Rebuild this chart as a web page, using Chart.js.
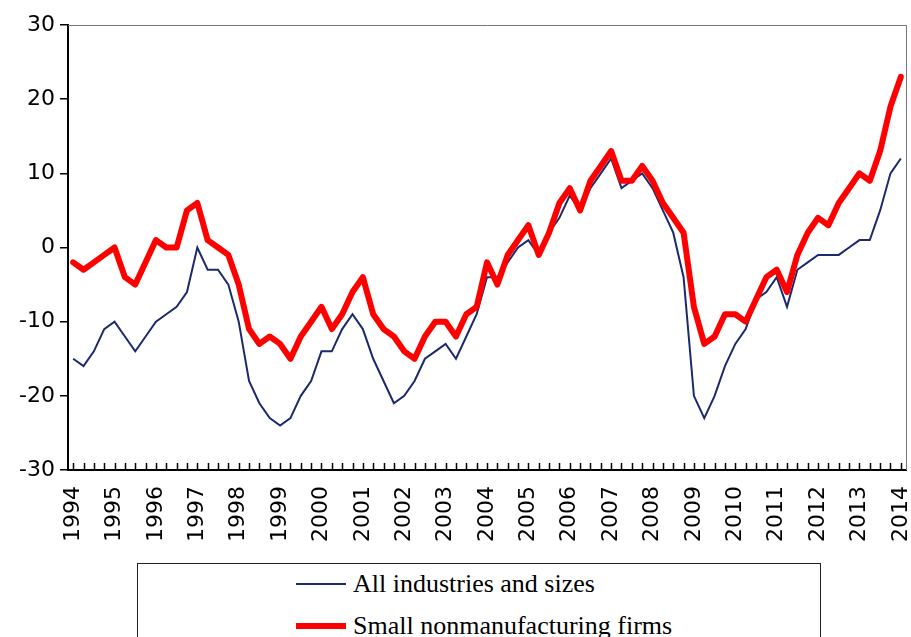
<!DOCTYPE html>
<html>
<head>
<meta charset="utf-8">
<script src="https://cdn.jsdelivr.net/npm/chart.js@4/dist/chart.umd.min.js"></script>
<style>
  html,body{margin:0;padding:0;background:#fff;overflow:hidden;}
  #wrap{position:relative;width:911px;height:637px;}
  #c{position:absolute;left:0;top:0;}
  #legend{position:absolute;left:137px;top:563px;width:684px;height:100px;
          border:1.5px solid #222;box-sizing:border-box;}
  .item{position:absolute;left:0;height:0;}
  .item .sw{position:absolute;left:158px;width:50px;}
  .item .tx{position:absolute;left:215px;white-space:nowrap;
            font-family:"Liberation Serif","Times New Roman",serif;font-size:26px;color:#000;
            transform:translateY(-50%);line-height:1;}
</style>
</head>
<body>
<div id="wrap">
  <canvas id="c" width="911" height="560"></canvas>
  <div id="legend"></div>
</div>
<script>
/* Business conditions DI: all industries vs small nonmanufacturing (quarterly) */

const YEARS = [1994,1995,1996,1997,1998,1999,2000,2001,2002,2003,2004,
               2005,2006,2007,2008,2009,2010,2011,2012,2013,2014];

// quarterly points 1994 Q1 .. 2014 Q1
const ALL_IND = [
  -15,-16,-14,-11,-10,-12,-14,-12,-10,-9,-8,-6,0,-3,-3,-5,-10,-18,-21,-23,-24,
  -23,-20,-18,-14,-14,-11,-9,-11,-15,-18,-21,-20,-18,-15,-14,-13,
  -15,-12,-9,-4,-4,-2,0,1,-1,2,4,7,
  5,8,10,12,8,9,10,8,5,2,-4,-20,
  -23,-20,-16,-13,-11,-7,-6,-4,-8,-3,-2,-1,
  -1,-1,0,1,1,5,10,12
];
const SMALL_NONMFG = [
  -2,-3,-2,-1,0,-4,-5,-2,1,0,0,5,6,1,0,-1,-5,-11,-13,-12,-13,
  -15,-12,-10,-8,-11,-9,-6,-4,-9,-11,-12,-14,-15,-12,-10,-10,
  -12,-9,-8,-2,-5,-1,1,3,-1,2,6,8,
  5,9,11,13,9,9,11,9,6,4,2,-8,
  -13,-12,-9,-9,-10,-7,-4,-3,-6,-1,2,4,
  3,6,8,10,9,13,19,23
];

const labels = [];
YEARS.forEach((y,i)=>{
  for(let q=1;q<=4;q++){
    if(i===YEARS.length-1 && q>1) break;
    labels.push(y+"Q"+q);
  }
});

// ── frame + inward quarter ticks ────────────────────────────────────────────
const framePlugin = {
  id:"frame",
  afterDraw(chart){
    const {ctx, chartArea:a, scales:{x}} = chart;
    ctx.save();
    ctx.strokeStyle="#777"; ctx.lineWidth=1;
    ctx.beginPath();
    ctx.moveTo(a.left, a.top+0.5); ctx.lineTo(a.right+0.5, a.top+0.5);
    ctx.lineTo(a.right+0.5, a.bottom);
    ctx.stroke();
    ctx.strokeStyle="#000"; ctx.lineWidth=1.5;
    ctx.beginPath();
    x.ticks.forEach((t,i)=>{
      const px = Math.round(x.getPixelForTick(i))+0.5;
      ctx.moveTo(px, a.bottom); ctx.lineTo(px, a.bottom-7);
    });
    ctx.stroke();
    ctx.restore();
  }
};

Chart.defaults.font.family = "'DejaVu Sans', sans-serif";
Chart.defaults.color = "#000";

const chart = new Chart(document.getElementById("c"),{
  type:"line",
  data:{labels, datasets:[
    {label:"All industries and sizes", data:ALL_IND, borderColor:"#1b2a6e",
     borderWidth:2, pointRadius:0, tension:0, order:2},
    {label:"Small nonmanufacturing firms", data:SMALL_NONMFG, borderColor:"#ff0000",
     borderWidth:6, pointRadius:0, tension:0, borderJoinStyle:"round", borderCapStyle:"round", order:1}
  ]},
  options:{
    responsive:false, animation:false, devicePixelRatio:1,
    layout:{padding:{top:25,right:5,left:0,bottom:0}},
    plugins:{legend:{display:false}, tooltip:{enabled:false}},
    scales:{
      x:{
        offset:true,
        grid:{display:true, drawOnChartArea:false, drawTicks:false},
        border:{display:true, color:"#000", width:2},
        ticks:{autoSkip:false, minRotation:90, maxRotation:90, padding:16,
               font:{size:22}, color:"#000",
               callback:(v,i)=> i%4===0 ? YEARS[i/4] : ""},
        afterFit:s=>{ s.height = 90; s.paddingLeft = 0; s.paddingRight = 0; }
      },
      y:{
        min:-30, max:30,
        grid:{drawOnChartArea:false, drawTicks:true, tickLength:8, color:"#000", lineWidth:1.5},
        border:{display:true, color:"#000", width:2},
        ticks:{stepSize:10, padding:5, font:{size:22}, color:"#000"},
        afterFit:s=>{ s.width = 68; s.paddingTop = 0; s.paddingBottom = 0; }
      }
    }
  },
  plugins:[framePlugin]
});

// ── html legend (stacked, like the source) ─────────────────────────────────
const leg = document.getElementById("legend");
chart.data.datasets.forEach((d,i)=>{
  const it = document.createElement("div");
  it.className="item";
  it.style.top = (20 + i*42)+"px";
  const sw = document.createElement("div");
  sw.className="sw";
  sw.style.height = d.borderWidth+"px";
  sw.style.top = (-d.borderWidth/2)+"px";
  sw.style.background = d.borderColor;
  const tx = document.createElement("div");
  tx.className="tx";
  tx.textContent = d.label;
  it.appendChild(sw); it.appendChild(tx);
  leg.appendChild(it);
});
</script>
</body>
</html>
